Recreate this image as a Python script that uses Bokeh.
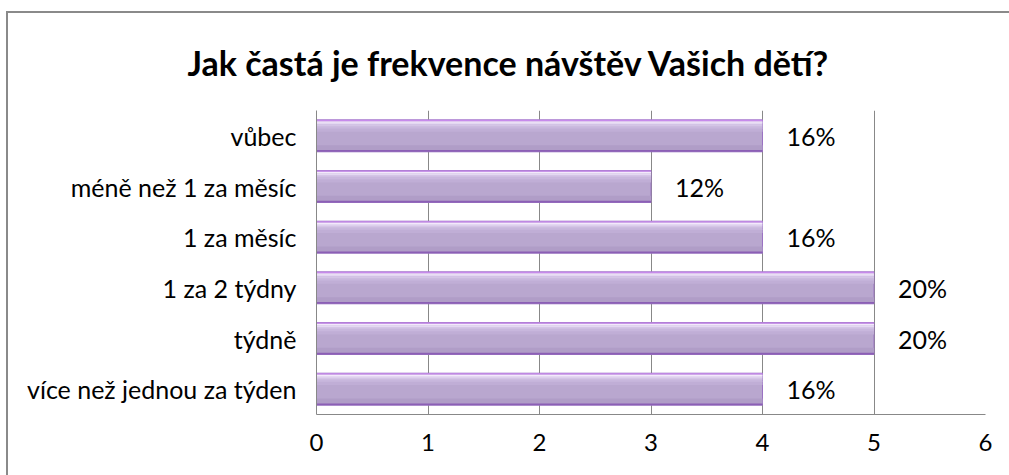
from bokeh.plotting import figure
from bokeh.models import ColumnDataSource, FactorRange, Range1d, FixedTicker
from bokeh.transform import dodge
from bokeh.core.properties import value
from bokeh.embed import file_html
from bokeh.resources import INLINE

title = "Jak častá je frekvence návštěv Vašich dětí?"
categories = ["vůbec", "méně než 1 za měsíc", "1 za měsíc", "1 za 2 týdny", "týdně", "více než jednou za týden"]
counts = [4, 3, 4, 5, 5, 4]
labels = ["16%", "12%", "16%", "20%", "20%", "16%"]
x_ticks = [0, 1, 2, 3, 4, 5, 6]

FONT = "Lato"
W, H = 1009, 475

src = ColumnDataSource(dict(cat=categories, val=counts, lab=labels))

p = figure(width=W, height=H, output_backend="svg", toolbar_location=None,
           y_range=FactorRange(factors=list(reversed(categories)), range_padding=0),
           x_range=Range1d(0, 6),
           min_border_left=316, min_border_right=24, min_border_top=110, min_border_bottom=61)

p.background_fill_color = "white"
p.border_fill_color = None
p.outline_line_color = None
g = "linear-gradient(#8a8a8a, #8a8a8a)"
p.styles = {
    "background-color": "white",
    "background-image": f"{g}, {g}",
    "background-repeat": "no-repeat, no-repeat",
    "background-position": "6px 11px, 6px 11px",
    "background-size": "2px 600px, 1200px 2px",
}

# bars: base and gradient strips
p.hbar(y="cat", right="val", left=0, height=0.63, source=src,
       fill_color="#B9A7CF", line_color="#9A72C2", line_width=1)
strips = [
    (0.12, 0.08, "#C0AED6"),
    (0.17, 0.05, "#C8B7DD"),
    (0.21, 0.04, "#D4C5E6"),
    (0.245, 0.035, "#E4D8F2"),
    (0.275, 0.03, "#F3EAFB"),
    (0.302, 0.026, "#C78AEB"),
    (-0.24, 0.11, "#B09DC7"),
    (-0.298, 0.034, "#8B5FB5"),
]
for off, h, col in strips:
    p.hbar(y=dodge("cat", off, range=p.y_range), right="val", left=0, height=h, source=src,
           fill_color=col, line_color=None)

p.text(x="val", y="cat", text="lab", source=src, x_offset=24,
       text_align="left", text_baseline="middle",
       text_font=value(FONT), text_font_size="25px", text_color="black")

# axes
p.xaxis.ticker = FixedTicker(ticks=x_ticks)
p.xaxis.axis_line_color = "#888888"
p.xaxis.major_tick_line_color = None
p.xaxis.minor_tick_line_color = None
p.xaxis.major_label_text_font = FONT
p.xaxis.major_label_text_font_size = "24px"
p.xaxis.major_label_text_color = "black"
p.xaxis.major_label_standoff = 13

p.yaxis.axis_line_color = "#888888"
p.yaxis.major_tick_line_color = None
p.yaxis.minor_tick_line_color = None
p.yaxis.major_label_text_font = FONT
p.yaxis.major_label_text_font_size = "25px"
p.yaxis.major_label_text_color = "black"
p.yaxis.major_label_standoff = 14

p.xgrid.grid_line_color = "#888888"
p.xgrid.grid_line_width = 1
p.ygrid.grid_line_color = None

p.title.text = title
p.title.align = "left"
p.title.offset = -129
p.title.standoff = 56
p.title.text_font = FONT
p.title.text_font_size = "34px"
p.title.text_font_style = "bold"
p.title.text_color = "black"

open("out.html", "w").write(file_html(p, INLINE))
